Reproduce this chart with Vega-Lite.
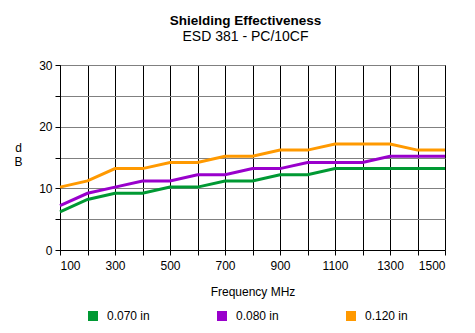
{
  "$schema": "https://vega.github.io/schema/vega-lite/v6.json",
  "autosize": {"type": "none"},
  "width": 385,
  "height": 185,
  "padding": {"left": 60, "top": 65, "right": 30, "bottom": 83},
  "background": "white",
  "title": {
    "text": "Shielding Effectiveness",
    "subtitle": "ESD 381 - PC/10CF",
    "font": "Liberation Sans",
    "fontSize": 13.5,
    "fontWeight": "bold",
    "color": "black",
    "subtitleFont": "Liberation Sans",
    "subtitleFontSize": 14,
    "subtitleColor": "black",
    "subtitlePadding": 3,
    "anchor": "middle",
    "frame": "group",
    "dx": -7,
    "offset": 15
  },
  "config": {
    "view": {"stroke": "black", "strokeWidth": 1},
    "font": "Liberation Sans"
  },
  "data": {
    "values": [
      {"freq": 100, "value": 6.2, "series": "0.070 in"},
      {"freq": 200, "value": 8.2, "series": "0.070 in"},
      {"freq": 300, "value": 9.2, "series": "0.070 in"},
      {"freq": 400, "value": 9.2, "series": "0.070 in"},
      {"freq": 500, "value": 10.2, "series": "0.070 in"},
      {"freq": 600, "value": 10.2, "series": "0.070 in"},
      {"freq": 700, "value": 11.2, "series": "0.070 in"},
      {"freq": 800, "value": 11.2, "series": "0.070 in"},
      {"freq": 900, "value": 12.2, "series": "0.070 in"},
      {"freq": 1000, "value": 12.2, "series": "0.070 in"},
      {"freq": 1100, "value": 13.2, "series": "0.070 in"},
      {"freq": 1200, "value": 13.2, "series": "0.070 in"},
      {"freq": 1300, "value": 13.2, "series": "0.070 in"},
      {"freq": 1400, "value": 13.2, "series": "0.070 in"},
      {"freq": 1500, "value": 13.2, "series": "0.070 in"},
      {"freq": 100, "value": 7.2, "series": "0.080 in"},
      {"freq": 200, "value": 9.2, "series": "0.080 in"},
      {"freq": 300, "value": 10.2, "series": "0.080 in"},
      {"freq": 400, "value": 11.2, "series": "0.080 in"},
      {"freq": 500, "value": 11.2, "series": "0.080 in"},
      {"freq": 600, "value": 12.2, "series": "0.080 in"},
      {"freq": 700, "value": 12.2, "series": "0.080 in"},
      {"freq": 800, "value": 13.2, "series": "0.080 in"},
      {"freq": 900, "value": 13.2, "series": "0.080 in"},
      {"freq": 1000, "value": 14.2, "series": "0.080 in"},
      {"freq": 1100, "value": 14.2, "series": "0.080 in"},
      {"freq": 1200, "value": 14.2, "series": "0.080 in"},
      {"freq": 1300, "value": 15.2, "series": "0.080 in"},
      {"freq": 1400, "value": 15.2, "series": "0.080 in"},
      {"freq": 1500, "value": 15.2, "series": "0.080 in"},
      {"freq": 100, "value": 10.2, "series": "0.120 in"},
      {"freq": 200, "value": 11.2, "series": "0.120 in"},
      {"freq": 300, "value": 13.2, "series": "0.120 in"},
      {"freq": 400, "value": 13.2, "series": "0.120 in"},
      {"freq": 500, "value": 14.2, "series": "0.120 in"},
      {"freq": 600, "value": 14.2, "series": "0.120 in"},
      {"freq": 700, "value": 15.2, "series": "0.120 in"},
      {"freq": 800, "value": 15.2, "series": "0.120 in"},
      {"freq": 900, "value": 16.2, "series": "0.120 in"},
      {"freq": 1000, "value": 16.2, "series": "0.120 in"},
      {"freq": 1100, "value": 17.2, "series": "0.120 in"},
      {"freq": 1200, "value": 17.2, "series": "0.120 in"},
      {"freq": 1300, "value": 17.2, "series": "0.120 in"},
      {"freq": 1400, "value": 16.2, "series": "0.120 in"},
      {"freq": 1500, "value": 16.2, "series": "0.120 in"}
    ]
  },
  "mark": {"type": "line", "strokeWidth": 3, "interpolate": "linear"},
  "encoding": {
    "x": {
      "field": "freq",
      "type": "quantitative",
      "scale": {"domain": [100, 1500], "nice": false, "zero": false},
      "axis": {
        "title": "Frequency MHz",
        "titleFont": "Liberation Sans",
        "titleFontSize": 12,
        "titleFontWeight": "normal",
        "titleColor": "black",
        "titlePadding": 15,
        "values": [100, 200, 300, 400, 500, 600, 700, 800, 900, 1000, 1100, 1200, 1300, 1400, 1500],
        "labelExpr": "(datum.value / 100) % 2 == 1 ? datum.label : ''",
        "format": "d",
        "labelFont": "Liberation Sans",
        "labelFontSize": 12,
        "labelColor": "black",
        "labelPadding": 5,
        "grid": true,
        "gridColor": "black",
        "gridOpacity": 1,
        "domainColor": "black",
        "tickColor": "black",
        "tickSize": 5
      }
    },
    "y": {
      "field": "value",
      "type": "quantitative",
      "scale": {"domain": [0, 30], "nice": false},
      "axis": {
        "title": ["d", "B"],
        "titleAngle": 0,
        "titleAlign": "center",
        "titleBaseline": "middle",
        "titleFont": "Liberation Sans",
        "titleFontSize": 12,
        "titleFontWeight": "normal",
        "titleColor": "black",
        "titleLineHeight": 14,
        "titleX": -42,
        "titleY": 82,
        "values": [0, 5, 10, 15, 20, 25, 30],
        "labelExpr": "datum.value % 10 == 0 ? datum.label : ''",
        "labelFont": "Liberation Sans",
        "labelFontSize": 12,
        "labelColor": "black",
        "labelPadding": 3,
        "grid": true,
        "gridColor": "#808080",
        "gridOpacity": 1,
        "domainColor": "black",
        "tickColor": "black",
        "tickSize": 5
      }
    },
    "color": {
      "field": "series",
      "type": "nominal",
      "scale": {
        "domain": ["0.070 in", "0.080 in", "0.120 in"],
        "range": ["#009933", "#9900cc", "#ff9900"]
      },
      "legend": {
        "title": null,
        "orient": "none",
        "legendX": 27,
        "legendY": 245,
        "direction": "horizontal",
        "symbolType": "square",
        "symbolSize": 100,
        "labelFont": "Liberation Sans",
        "labelFontSize": 12,
        "labelColor": "black",
        "labelOffset": 8,
        "columnPadding": 66,
        "encode": {
          "symbols": {
            "update": {
              "fill": {"scale": "color", "field": "value"},
              "fillOpacity": {"value": 1},
              "strokeWidth": {"value": 0}
            }
          }
        }
      }
    }
  }
}
